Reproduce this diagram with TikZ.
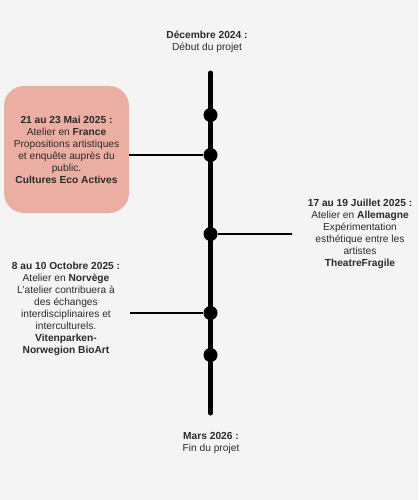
\documentclass[tikz,border=0pt]{standalone}
\usepackage{fontspec}
\setmainfont{Liberation Sans}
\definecolor{bg}{HTML}{F4F4F4}
\definecolor{boxpink}{HTML}{EBAEA3}
\definecolor{txt}{HTML}{2A2A2A}
\begin{document}
\begin{tikzpicture}[x=1pt,y=-1pt,
  lbl/.style={align=center,font=\fontsize{10.2}{12}\selectfont,text=txt,inner sep=0pt},
  dot/.style={circle,fill=black,minimum size=14pt,inner sep=0pt},
  conn/.style={line width=1.8pt,black},
  spine/.style={line width=5pt,black,line cap=round}]
\fill[bg] (0,0) rectangle (418,500);
\useasboundingbox (0,0) rectangle (418,500);
% spine
\coordinate (top) at (210.5,73);
\coordinate (bot) at (210.5,413);
\draw[spine] (top) -- (bot);
\node[dot] (d1) at (210.5,115) {};
\node[dot] (d2) at (210.5,155) {};
\node[dot] (d3) at (210.5,234) {};
\node[dot] (d4) at (210.5,313) {};
\node[dot] (d5) at (210.5,355) {};
% top
\node[lbl] (start) at (207,42) {\textbf{Décembre 2024 :}\\Début du projet};
% France box
\node[lbl,fill=boxpink,rounded corners=20pt,minimum width=125pt,minimum height=127pt] (fr) at (66.5,149.5)
 {\textbf{21 au 23 Mai 2025 :}\\Atelier en \textbf{France}\\Propositions artistiques\\et enquête auprès du\\public.\\\textbf{Cultures Eco Actives}};
\draw[conn] (fr.east |- d2) -- (d2);
% Allemagne
\node[lbl] (de) at (360,233.5)
 {\textbf{17 au 19 Juillet 2025 :}\\Atelier en \textbf{Allemagne}\\Expérimentation\\esthétique entre les\\artistes\\\textbf{TheatreFragile}};
\coordinate (deend) at (292,234);
\draw[conn] (d3) -- (deend);
% Norvege
\node[lbl] (no) at (66,309)
 {\textbf{8 au 10 Octobre 2025 :}\\Atelier en \textbf{Norvège}\\L'atelier contribuera à\\des échanges\\interdisciplinaires et\\interculturels.\\\textbf{Vitenparken-}\\\textbf{Norwegion BioArt}};
\coordinate (noend) at (130,313);
\draw[conn] (noend) -- (d4);
% bottom
\node[lbl] (end) at (211,443) {\textbf{Mars 2026 :}\\Fin du projet};
\end{tikzpicture}
\end{document}
